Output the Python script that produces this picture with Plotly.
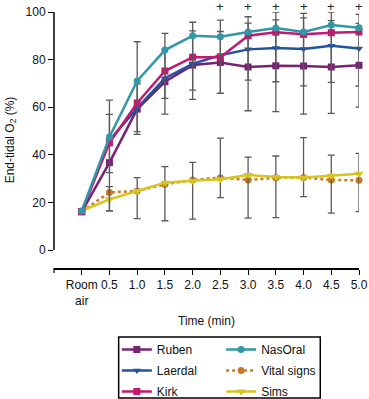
import plotly.graph_objects as go

x_vals = [0, 0.5, 1.0, 1.5, 2.0, 2.5, 3.0, 3.5, 4.0, 4.5, 5.0]
tick_vals = [0, 0.5, 1.0, 1.5, 2.0, 2.5, 3.0, 3.5, 4.0, 4.5, 5.0]
tick_text = ["Room<br>air", "0.5", "1.0", "1.5", "2.0", "2.5", "3.0", "3.5", "4.0", "4.5", "5.0"]

ruben = [16.0, 36.7, 59.2, 70.7, 77.7, 78.8, 76.9, 77.4, 77.3, 76.9, 77.6]
laerdal = [16.2, 46.0, 59.6, 72.2, 78.2, 81.8, 84.3, 84.9, 84.5, 85.8, 84.7]
kirk = [16.2, 45.0, 61.8, 75.2, 81.0, 81.0, 90.0, 91.5, 90.6, 91.3, 91.6]
nasoral = [16.4, 47.5, 71.0, 84.0, 90.0, 89.6, 91.6, 93.3, 91.6, 94.5, 93.4]
vital = [16.2, 24.2, 24.8, 27.6, 29.4, 30.4, 29.4, 30.4, 30.5, 29.4, 29.3]
sims = [16.5, 21.3, 24.8, 28.3, 29.1, 29.7, 31.5, 30.7, 30.5, 31.2, 32.0]

ruben_err = [0, 20.3, 10.6, 13.6, 14.4, 13.0, 18.4, 19.3, 20.2, 19.5, 17.6]
nasoral_err_plus = [0, 15.5, 16.5, 7.0, 5.7, 7.0, 6.4, 6.7, 7.8, 5.5, 5.6]
nasoral_err_minus = [0, 15.0, 21.3, 20.3, 22.8, 23.8, 20.2, 22.6, 22.6, 24.1, 24.5]
sims_err_plus = [0, 5.3, 5.6, 6.7, 7.7, 17.3, 7.5, 8.8, 16.7, 8.7, 8.6]
sims_err_minus = [0, 4.9, 11.6, 16.0, 16.1, 7.7, 18.1, 17.1, 8.1, 15.7, 15.9]

sig_x = [2.5, 3.0, 3.5, 4.0, 4.5, 5.0]

font = "Liberation Sans, Arial, Helvetica, sans-serif"
err_color = "#5a5a5a"

def err(plus, minus=None):
    d = dict(type="data", array=plus, color=err_color, thickness=1.3, width=3.5)
    if minus is not None:
        d["symmetric"] = False
        d["arrayminus"] = minus
    return d

fig = go.Figure()

fig.add_trace(go.Scatter(x=x_vals, y=vital, name="Vital signs", mode="lines+markers",
                         line=dict(color="#c97a26", width=2.5, dash="dot"),
                         marker=dict(symbol="circle", size=7, color="#c97a26"),
                         legend="legend2", legendrank=5, legendgroup="v", cliponaxis=False))
fig.add_trace(go.Scatter(x=x_vals, y=sims, name="Sims", mode="lines+markers",
                         line=dict(color="#d6c51e", width=2.5),
                         marker=dict(symbol="triangle-down", size=8, color="#d6c51e"),
                         error_y=err(sims_err_plus, sims_err_minus),
                         legend="legend2", legendrank=6, legendgroup="s", cliponaxis=False))
fig.add_trace(go.Scatter(x=x_vals, y=ruben, name="Ruben", mode="lines+markers",
                         line=dict(color="#772372", width=2.5),
                         marker=dict(symbol="square", size=7, color="#772372"),
                         error_y=err(ruben_err),
                         legend="legend", legendrank=1, legendgroup="r", cliponaxis=False))
fig.add_trace(go.Scatter(x=x_vals, y=laerdal, name="Laerdal", mode="lines+markers",
                         line=dict(color="#2153a0", width=2.5),
                         marker=dict(symbol="triangle-down", size=7, color="#2153a0"),
                         legend="legend", legendrank=2, legendgroup="l", cliponaxis=False))
fig.add_trace(go.Scatter(x=x_vals, y=kirk, name="Kirk", mode="lines+markers",
                         line=dict(color="#c2186f", width=2.5),
                         marker=dict(symbol="square", size=7, color="#c2186f"),
                         legend="legend", legendrank=3, legendgroup="k", cliponaxis=False))
fig.add_trace(go.Scatter(x=x_vals, y=nasoral, name="NasOral", mode="lines+markers",
                         line=dict(color="#3298a8", width=2.5),
                         marker=dict(symbol="circle", size=7, color="#3298a8"),
                         error_y=err(nasoral_err_plus, nasoral_err_minus),
                         legend="legend2", legendrank=4, legendgroup="n", cliponaxis=False))

for sx in sig_x:
    fig.add_annotation(x=sx, y=1.02, xref="x", yref="paper", text="+", showarrow=False,
                       xanchor="center", yanchor="middle",
                       font=dict(size=13, color="#222"))

# detached y-axis line (0 to 100)
fig.add_shape(type="line", xref="paper", yref="y", x0=0, x1=0, y0=0, y1=100,
              line=dict(color="black", width=1.5))
# tick at left end of x axis
fig.add_shape(type="line", xref="paper", yref="paper", x0=0, x1=0, y0=0, y1=-0.02,
              line=dict(color="black", width=1.2))
# legend box
fig.add_shape(type="rect", xref="paper", yref="paper", x0=0.212, x1=0.873,
              y0=-0.508, y1=-0.27, line=dict(color="black", width=1.5))

fig.add_annotation(x=0.5, y=-0.207, xref="paper", yref="paper", text="Time (min)",
                   xanchor="center", yanchor="middle",
                   showarrow=False, font=dict(size=12, color="#111"))

leg_common = dict(xanchor="left", yanchor="top", orientation="v",
                  bgcolor="rgba(0,0,0,0)", font=dict(size=12), tracegroupgap=2,
                  traceorder="grouped")

fig.update_layout(
    width=369, height=399,
    margin=dict(l=54, r=10, t=12, b=131, autoexpand=False),
    paper_bgcolor="white", plot_bgcolor="white",
    font=dict(family=font, size=12, color="#111"),
    xaxis=dict(range=[-0.5, 5.0], tickvals=tick_vals, ticktext=tick_text,
               showline=True, linecolor="black", linewidth=1.5,
               ticks="outside", ticklen=5, tickcolor="black", tickwidth=1.2,
               showgrid=False, zeroline=False, tickfont=dict(size=12)),
    yaxis=dict(range=[-7.56, 100], tickvals=[0, 20, 40, 60, 80, 100],
               showline=False, ticks="outside", ticklen=5, tickcolor="black", tickwidth=1.2,
               showgrid=False, zeroline=False, tickfont=dict(size=12),
               title=dict(text="End-tidal O<sub>2</sub> (%)", font=dict(size=12), standoff=8)),
    legend=dict(x=0.206, y=-0.262, **leg_common),
    legend2=dict(x=0.548, y=-0.262, **leg_common),
    showlegend=True,
)

fig.write_html("out.html", config={"displayModeBar": False},
               post_script="document.body.style.margin='0';document.body.style.padding='0';")
